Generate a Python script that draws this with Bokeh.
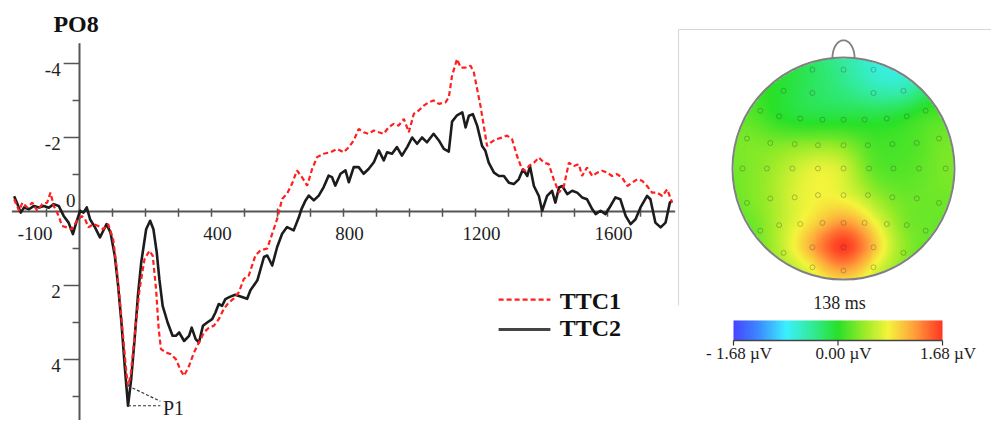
import numpy as np
from bokeh.plotting import figure
from bokeh.models import Range1d, ColumnDataSource, LinearColorMapper
from bokeh.layouts import row
from bokeh.embed import file_html
from bokeh.resources import INLINE
from bokeh.core.properties import value

# ---------------- data: ERP waveforms at PO8 (ms, µV; negative up) ----------------
ttc2_t = [-198, -188, -178, -168, -153, -138, -123, -108, -93, -78, -63, -48, -33, -20, -10, 2, 12, 22, 32, 47,
          62, 72, 82, 94, 107, 117, 127, 137, 147, 157, 167, 177, 187, 202, 214, 224, 234, 242, 252, 267,
          282, 292, 302, 317, 332, 340, 352, 362, 374, 387, 402, 412, 422, 432, 442, 457, 472, 488, 508, 518,
          539, 559, 569, 584, 599, 614, 629, 649, 665, 672, 685, 695, 710, 725, 740, 755, 765, 775, 791, 806,
          816, 831, 846, 861, 876, 892, 907, 922, 932, 947, 962, 977, 993, 1008, 1023, 1038, 1053, 1073, 1089, 1104,
          1119, 1129, 1144, 1160, 1170, 1180, 1192, 1205, 1220, 1230, 1240, 1256, 1271, 1286, 1301, 1316, 1331, 1344, 1357, 1365,
          1377, 1392, 1402, 1417, 1432, 1442, 1453, 1463, 1478, 1493, 1508, 1523, 1538, 1554, 1564, 1579, 1594, 1609, 1624, 1639,
          1655, 1670, 1685, 1700, 1720, 1730, 1745, 1761, 1776, 1789, 1796]
ttc2_v = [-0.41, -0.2, 0.03, -0.11, -0.06, -0.15, -0.11, -0.15, -0.1, -0.2, -0.15, 0.12, 0.3, 0.61, 0.3, -0.02, 0.03, -0.11, 0.21, 0.43,
          0.70, 0.52, 0.34, 0.57, 1.2, 2.0, 3.0, 4.17, 5.25, 4.5, 3.45, 2.28, 1.38, 0.48, 0.25, 0.48, 1.1, 1.83, 2.55, 3.0,
          3.36, 3.36, 3.27, 3.5, 3.36, 3.14, 3.45, 3.54, 3.09, 3.0, 2.91, 2.73, 2.5, 2.55, 2.37, 2.3, 2.25, 2.3, 2.36, 2.13,
          1.86, 1.23, 1.19, 1.46, 0.96, 0.6, 0.42, 0.51, 0.15, -0.05, -0.3, -0.43, -0.3, -0.43, -0.66, -0.97, -0.93, -0.7, -1.02, -1.11,
          -0.79, -1.2, -1.2, -1.02, -1.15, -1.33, -1.65, -1.38, -1.6, -1.56, -1.74, -1.51, -1.74, -2.0, -1.83, -2.0, -1.87, -2.1, -1.92, -1.69,
          -1.62, -2.43, -2.6, -2.68, -2.27, -2.59, -2.63, -2.32, -1.77, -1.64, -1.32, -1.05, -0.96, -0.96, -0.78, -0.74, -0.87, -1.14, -0.96, -1.23,
          -0.69, -0.42, -0.02, -0.42, -0.56, -0.24, -0.65, -0.69, -0.47, -0.56, -0.51, -0.38, -0.33, -0.06, 0.07, -0.02, 0.07, -0.15, -0.38, -0.33,
          0.12, 0.34, 0.21, -0.11, -0.42, -0.33, 0.3, 0.43, 0.3, -0.24, -0.29]

ttc1_t = [-198, -183, -173, -158, -143, -128, -113, -98, -88, -78, -63, -53, -38, -23, -8, 7, 17, 27, 42, 57,
          72, 87, 102, 112, 122, 132, 142, 147, 155, 167, 182, 197, 212, 222, 232, 240, 247, 262, 277, 292,
          307, 317, 332, 347, 362, 377, 392, 407, 422, 437, 452, 468, 483, 498, 513, 533, 548, 569, 584, 599,
          614, 629, 644, 659, 674, 690, 705, 720, 740, 760, 781, 801, 816, 831, 846, 861, 876, 892, 907, 922,
          937, 952, 967, 983, 998, 1013, 1028, 1043, 1058, 1073, 1089, 1109, 1119, 1129, 1144, 1155, 1170, 1185, 1195, 1205,
          1215, 1225, 1235, 1246, 1261, 1281, 1296, 1311, 1326, 1341, 1352, 1362, 1377, 1392, 1407, 1422, 1437, 1453, 1468, 1483,
          1498, 1513, 1523, 1538, 1554, 1569, 1584, 1599, 1614, 1629, 1644, 1660, 1675, 1690, 1705, 1720, 1735, 1750, 1766, 1781,
          1796]
ttc1_v = [-0.33, -0.02, -0.24, -0.11, -0.24, -0.02, -0.2, -0.24, -0.51, -0.15, 0.12, 0.39, 0.43, 0.48, 0.25, 0.12, 0.21, 0.43, 0.34, 0.39,
          0.48, 0.34, 0.75, 1.47, 2.37, 3.36, 4.35, 4.71, 4.44, 3.36, 2.1, 1.29, 1.06, 1.2, 2.1, 3.18, 3.72, 3.81, 3.86, 3.99,
          4.3, 4.44, 4.17, 3.81, 3.54, 3.27, 3.14, 3.09, 2.91, 2.64, 2.46, 2.35, 2.18, 1.82, 1.73, 1.19, 1.05, 1.0, 0.6, 0.2,
          -0.34, -0.48, -0.75, -1.11, -0.93, -0.7, -1.15, -1.47, -1.56, -1.6, -1.69, -1.6, -1.74, -1.92, -2.23, -2.14, -2.1, -2.19, -2.14, -2.1,
          -2.28, -2.37, -2.32, -2.5, -2.14, -2.64, -2.73, -2.86, -2.95, -3.0, -2.91, -2.95, -3.08, -3.67, -4.12, -3.89, -3.89, -3.94, -3.76, -3.31,
          -2.86, -2.32, -1.77, -1.86, -1.95, -2.0, -2.05, -1.95, -1.5, -1.14, -1.1, -1.23, -1.32, -1.46, -1.32, -1.28, -0.87, -0.51, -0.69, -1.32,
          -1.23, -1.28, -0.96, -1.19, -0.96, -1.05, -1.1, -1.05, -0.96, -1.01, -0.92, -0.69, -0.78, -0.87, -0.83, -0.69, -0.51, -0.51, -0.42, -0.6,
          -0.24]

series_names = ["TTC1", "TTC2"]
x_major_ticks = [-100, 400, 800, 1200, 1600]
x_major_labels = ["-100", "400", "800", "1200", "1600"]
x_minor_ticks = [-100, 0, 100, 200, 300, 400, 500, 600, 700, 800, 900, 1000, 1100, 1200, 1300, 1400, 1500, 1600, 1700]
y_major_ticks = [-4, -2, 2, 4]
y_major_labels = ["-4", "-2", "2", "4"]
y_minor_ticks = [-3, -1, 1, 3, 5]

# ---------------- data: topography at 138 ms (head units, µV) ----------------
elec_x = [-0.28, 0.0, 0.27,
          -0.54, -0.28, 0.27, 0.54,
          -0.75, -0.58, -0.39, -0.19, 0.0, 0.19, 0.39, 0.57, 0.74,
          -0.87, -0.66, -0.44, -0.23, 0.0, 0.22, 0.44, 0.66, 0.86,
          -0.91, -0.69, -0.46, -0.23, 0.0, 0.23, 0.45, 0.68, 0.92,
          -0.87, -0.66, -0.44, -0.23, 0.0, 0.22, 0.44, 0.66, 0.86,
          -0.75, -0.58, -0.39, -0.19, 0.0, 0.19, 0.39, 0.57, 0.74,
          -0.54, -0.28, 0.0, 0.27, 0.54,
          -0.28, 0.0, 0.27]
elec_y = [0.89, 0.89, 0.89,
          0.70, 0.68, 0.68, 0.70,
          0.52, 0.47, 0.45, 0.44, 0.44, 0.44, 0.45, 0.47, 0.52,
          0.27, 0.23, 0.22, 0.21, 0.21, 0.21, 0.22, 0.23, 0.27,
          0.0, 0.0, 0.0, 0.0, 0.0, 0.0, 0.0, 0.0, 0.0,
          -0.31, -0.27, -0.26, -0.24, -0.24, -0.24, -0.26, -0.27, -0.31,
          -0.56, -0.51, -0.5, -0.49, -0.49, -0.49, -0.5, -0.51, -0.56,
          -0.76, -0.71, -0.71, -0.71, -0.76,
          -0.89, -0.92, -0.89]
elec_v = [-0.2, -0.4, -0.65,
          -0.05, -0.2, -0.45, -0.5,
          0.1, 0.0, -0.05, -0.05, -0.05, -0.05, -0.05, 0.0, 0.05,
          0.3, 0.3, 0.35, 0.4, 0.35, 0.15, 0.1, 0.15, 0.25,
          0.3, 0.4, 0.6, 0.75, 0.65, 0.25, 0.15, 0.2, 0.3,
          0.3, 0.45, 0.7, 0.8, 0.75, 0.5, 0.3, 0.25, 0.25,
          0.3, 0.55, 0.8, 1.05, 1.25, 1.0, 0.6, 0.3, 0.25,
          0.6, 1.2, 1.68, 1.1, 0.4,
          0.85, 1.2, 0.8]
scale_limits = [-1.68, 1.68]
scale_labels = ["- 1.68 \u00b5V", "0.00 \u00b5V", "1.68 \u00b5V"]
map_title = "138 ms"

SERIF = value("Liberation Serif")

# ================= left: waveform =================
PX_MS = 0.33
PX_UV = 37.0
W1, H = 676, 420
x0_px, y0_px = 79, 211
xr = Range1d(-x0_px / PX_MS, (W1 - x0_px) / PX_MS)
yr = Range1d((H - y0_px) / PX_UV, -y0_px / PX_UV)   # inverted: negative up

p1 = figure(width=W1, height=H, x_range=xr, y_range=yr, output_backend="svg",
            toolbar_location=None, min_border=0)
p1.axis.visible = False
p1.grid.visible = False
p1.outline_line_color = None

AX = "#555555"
TXT = "#1e1e1e"
# axes through origin
p1.segment(x0=[-205], y0=[0], x1=[1805], y1=[0], line_color=AX, line_width=2)
p1.segment(x0=[0], y0=[-4.55], x1=[0], y1=[5.7], line_color=AX, line_width=2)
# x ticks
p1.segment(x0=x_minor_ticks, y0=[-0.08] * len(x_minor_ticks), x1=x_minor_ticks,
           y1=[0.14] * len(x_minor_ticks), line_color=AX, line_width=1.5)
# y ticks
p1.segment(x0=[-48] * len(y_major_ticks), y0=y_major_ticks, x1=[0] * len(y_major_ticks),
           y1=y_major_ticks, line_color=AX, line_width=1.5)
p1.segment(x0=[-21] * len(y_minor_ticks), y0=y_minor_ticks, x1=[0] * len(y_minor_ticks),
           y1=y_minor_ticks, line_color=AX, line_width=1.5)
# tick labels
lab_dx = 6 / PX_MS
p1.text(x=[t + lab_dx for t in x_major_ticks[1:]], y=[0.6] * (len(x_major_ticks) - 1),
        text=x_major_labels[1:], text_font=SERIF, text_font_size="19px", text_color=TXT,
        text_align="center", text_baseline="middle")
p1.text(x=[x_major_ticks[0] + lab_dx], y=[0.6], text=[x_major_labels[0]], text_font=SERIF,
        text_font_size="19px", text_color=TXT, text_align="right", text_baseline="middle")
p1.text(x=[-57] * len(y_major_ticks), y=[v + 0.15 for v in y_major_ticks], text=y_major_labels,
        text_font=SERIF, text_font_size="19px", text_color=TXT, text_align="right",
        text_baseline="middle")
p1.text(x=[-12], y=[-0.3], text=["0"], text_font=SERIF, text_font_size="19px", text_color=TXT,
        text_align="right", text_baseline="middle")
# title
p1.text(x=[-79], y=[-5.07], text=["PO8"], text_font=SERIF, text_font_size="24px",
        text_font_style="bold", text_color="#111111", text_align="left", text_baseline="middle")

# waveforms
src1 = ColumnDataSource(dict(t=ttc1_t, v=ttc1_v))
src2 = ColumnDataSource(dict(t=ttc2_t, v=ttc2_v))
RED = "#ff1f1f"
BLK = "#1c1c1c"
p1.line("t", "v", source=src2, line_color=BLK, line_width=2.6, line_join="round")
p1.line("t", "v", source=src1, line_color=RED, line_width=2.2, line_dash="5 3")

# P1 annotation, from the peaks of both series
i1 = int(np.argmax(ttc1_v[:40])); i2 = int(np.argmax(ttc2_v[:40]))
p1.segment(x0=[ttc2_t[i2], ttc1_t[i1]], y0=[ttc2_v[i2], ttc1_v[i1]], x1=[245, 245],
           y1=[ttc2_v[i2], ttc2_v[i2] - 0.12], line_color="#333333", line_width=1.2, line_dash="3 2")
p1.text(x=[253], y=[5.3], text=["P1"], text_font=SERIF, text_font_size="20px",
        text_color=TXT, text_align="left", text_baseline="middle")

# legend
leg_x0, leg_x1, leg_tx = 1270, 1427, 1455
leg_y = [2.38, 3.19]
p1.line([leg_x0, leg_x1], [leg_y[0]] * 2, line_color=RED, line_width=2.2, line_dash="5 3")
p1.line([leg_x0, leg_x1], [leg_y[1]] * 2, line_color="#444444", line_width=3)
p1.text(x=[leg_tx] * 2, y=[leg_y[0] + 0.03, leg_y[1] - 0.05], text=series_names, text_font=SERIF,
        text_font_size="24px", text_font_style="bold", text_color="#111111",
        text_align="left", text_baseline="middle")

# ================= right: topographic map =================
W2 = 315
R = 111.0
cx_px, cy_px = 167, 168
p2 = figure(width=W2, height=H, x_range=Range1d(-cx_px / R, (W2 - cx_px) / R),
            y_range=Range1d(-(H - cy_px) / R, cy_px / R), output_backend="svg",
            toolbar_location=None, min_border=0)
p2.axis.visible = False
p2.grid.visible = False
p2.outline_line_color = None

# frame
p2.segment(x0=[-1.486, -1.486], y0=[-1.234, 1.252], x1=[-1.486, 1.35], y1=[1.252, 1.252],
           line_color="#d6d6d6", line_width=1)

# palette (blue-cyan-green-yellow-red)
stops = [(0.0, (70, 70, 255)), (0.12, (60, 140, 255)), (0.25, (60, 240, 255)), (0.38, (50, 235, 150)),
         (0.5, (40, 225, 40)), (0.62, (150, 235, 40)), (0.74, (245, 245, 60)), (0.86, (255, 165, 60)),
         (1.0, (255, 55, 35))]
pos = np.linspace(0, 1, 256)
sp = [s[0] for s in stops]
chans = [np.interp(pos, sp, [s[1][k] for s in stops]) for k in range(3)]
palette = ["#%02x%02x%02x" % (int(r), int(g), int(b)) for r, g, b in zip(*chans)]
mapper = LinearColorMapper(palette=palette, low=scale_limits[0], high=scale_limits[1],
                           nan_color=(0, 0, 0, 0.0))

# thin-plate spline interpolation of electrode values over the scalp
ex = np.array(elec_x); ey = np.array(elec_y); ev = np.array(elec_v)
def kern(r):
    with np.errstate(divide="ignore", invalid="ignore"):
        k = r ** 2 * np.log(r)
    return np.nan_to_num(k)
n = len(ex)
D = np.hypot(ex[:, None] - ex[None, :], ey[:, None] - ey[None, :])
A = np.zeros((n + 3, n + 3))
A[:n, :n] = kern(D) + 0.002 * np.eye(n)
P = np.column_stack([np.ones(n), ex, ey])
A[:n, n:] = P
A[n:, :n] = P.T
coef = np.linalg.solve(A, np.concatenate([ev, np.zeros(3)]))
G = 226
g = np.linspace(-1, 1, G)
XX, YY = np.meshgrid(g, g)
Dg = np.hypot(XX.ravel()[:, None] - ex[None, :], YY.ravel()[:, None] - ey[None, :])
Z = kern(Dg) @ coef[:n] + coef[n] + coef[n + 1] * XX.ravel() + coef[n + 2] * YY.ravel()
Z = np.clip(Z.reshape(G, G), scale_limits[0], scale_limits[1])
Z[np.hypot(XX, YY) > 1.0] = np.nan
p2.image(image=[Z], x=-1, y=-1, dw=2, dh=2, color_mapper=mapper)

# electrodes
p2.scatter(x=elec_x, y=elec_y, marker="circle", size=5, fill_color=None,
           line_color="#333333", line_alpha=0.3, line_width=1)
# head outline + nose
p2.ellipse(x=[0], y=[0], width=[2], height=[2], fill_color=None, line_color="#808080", line_width=2)
tt = np.linspace(0, np.pi, 40)
p2.line(-0.1 * np.cos(tt), 0.995 + 0.16 * np.sin(tt), line_color="#808080", line_width=1.8)

# title under map
p2.text(x=[-0.036], y=[-1.216], text=[map_title], text_font=SERIF, text_font_size="18px",
        text_color=TXT, text_align="center", text_baseline="middle")

# colour bar
cb_x0, cb_w, cb_y0, cb_h = -0.991, 1.883, -1.550, 0.181
p2.image(image=[np.linspace(scale_limits[0], scale_limits[1], 256)[None, :]], x=cb_x0, y=cb_y0,
         dw=cb_w, dh=cb_h, color_mapper=mapper)
p2.segment(x0=[cb_x0], y0=[cb_y0], x1=[cb_x0 + cb_w], y1=[cb_y0], line_color="#444444", line_width=1.5)
cb_vals = [scale_limits[0], 0.0, scale_limits[1]]
cb_tx = [cb_x0 + (v - scale_limits[0]) / (scale_limits[1] - scale_limits[0]) * cb_w for v in cb_vals]
p2.segment(x0=cb_tx, y0=[cb_y0] * 3, x1=cb_tx, y1=[cb_y0 - 0.045] * 3, line_color="#333333", line_width=1.2)
p2.text(x=[t + 0.05 for t in cb_tx], y=[-1.667] * 3, text=scale_labels, text_font=SERIF,
        text_font_size="17px", text_color=TXT, text_align="center", text_baseline="middle")

layout = row(p1, p2, spacing=0)
open("out.html", "w").write(file_html(layout, INLINE))
